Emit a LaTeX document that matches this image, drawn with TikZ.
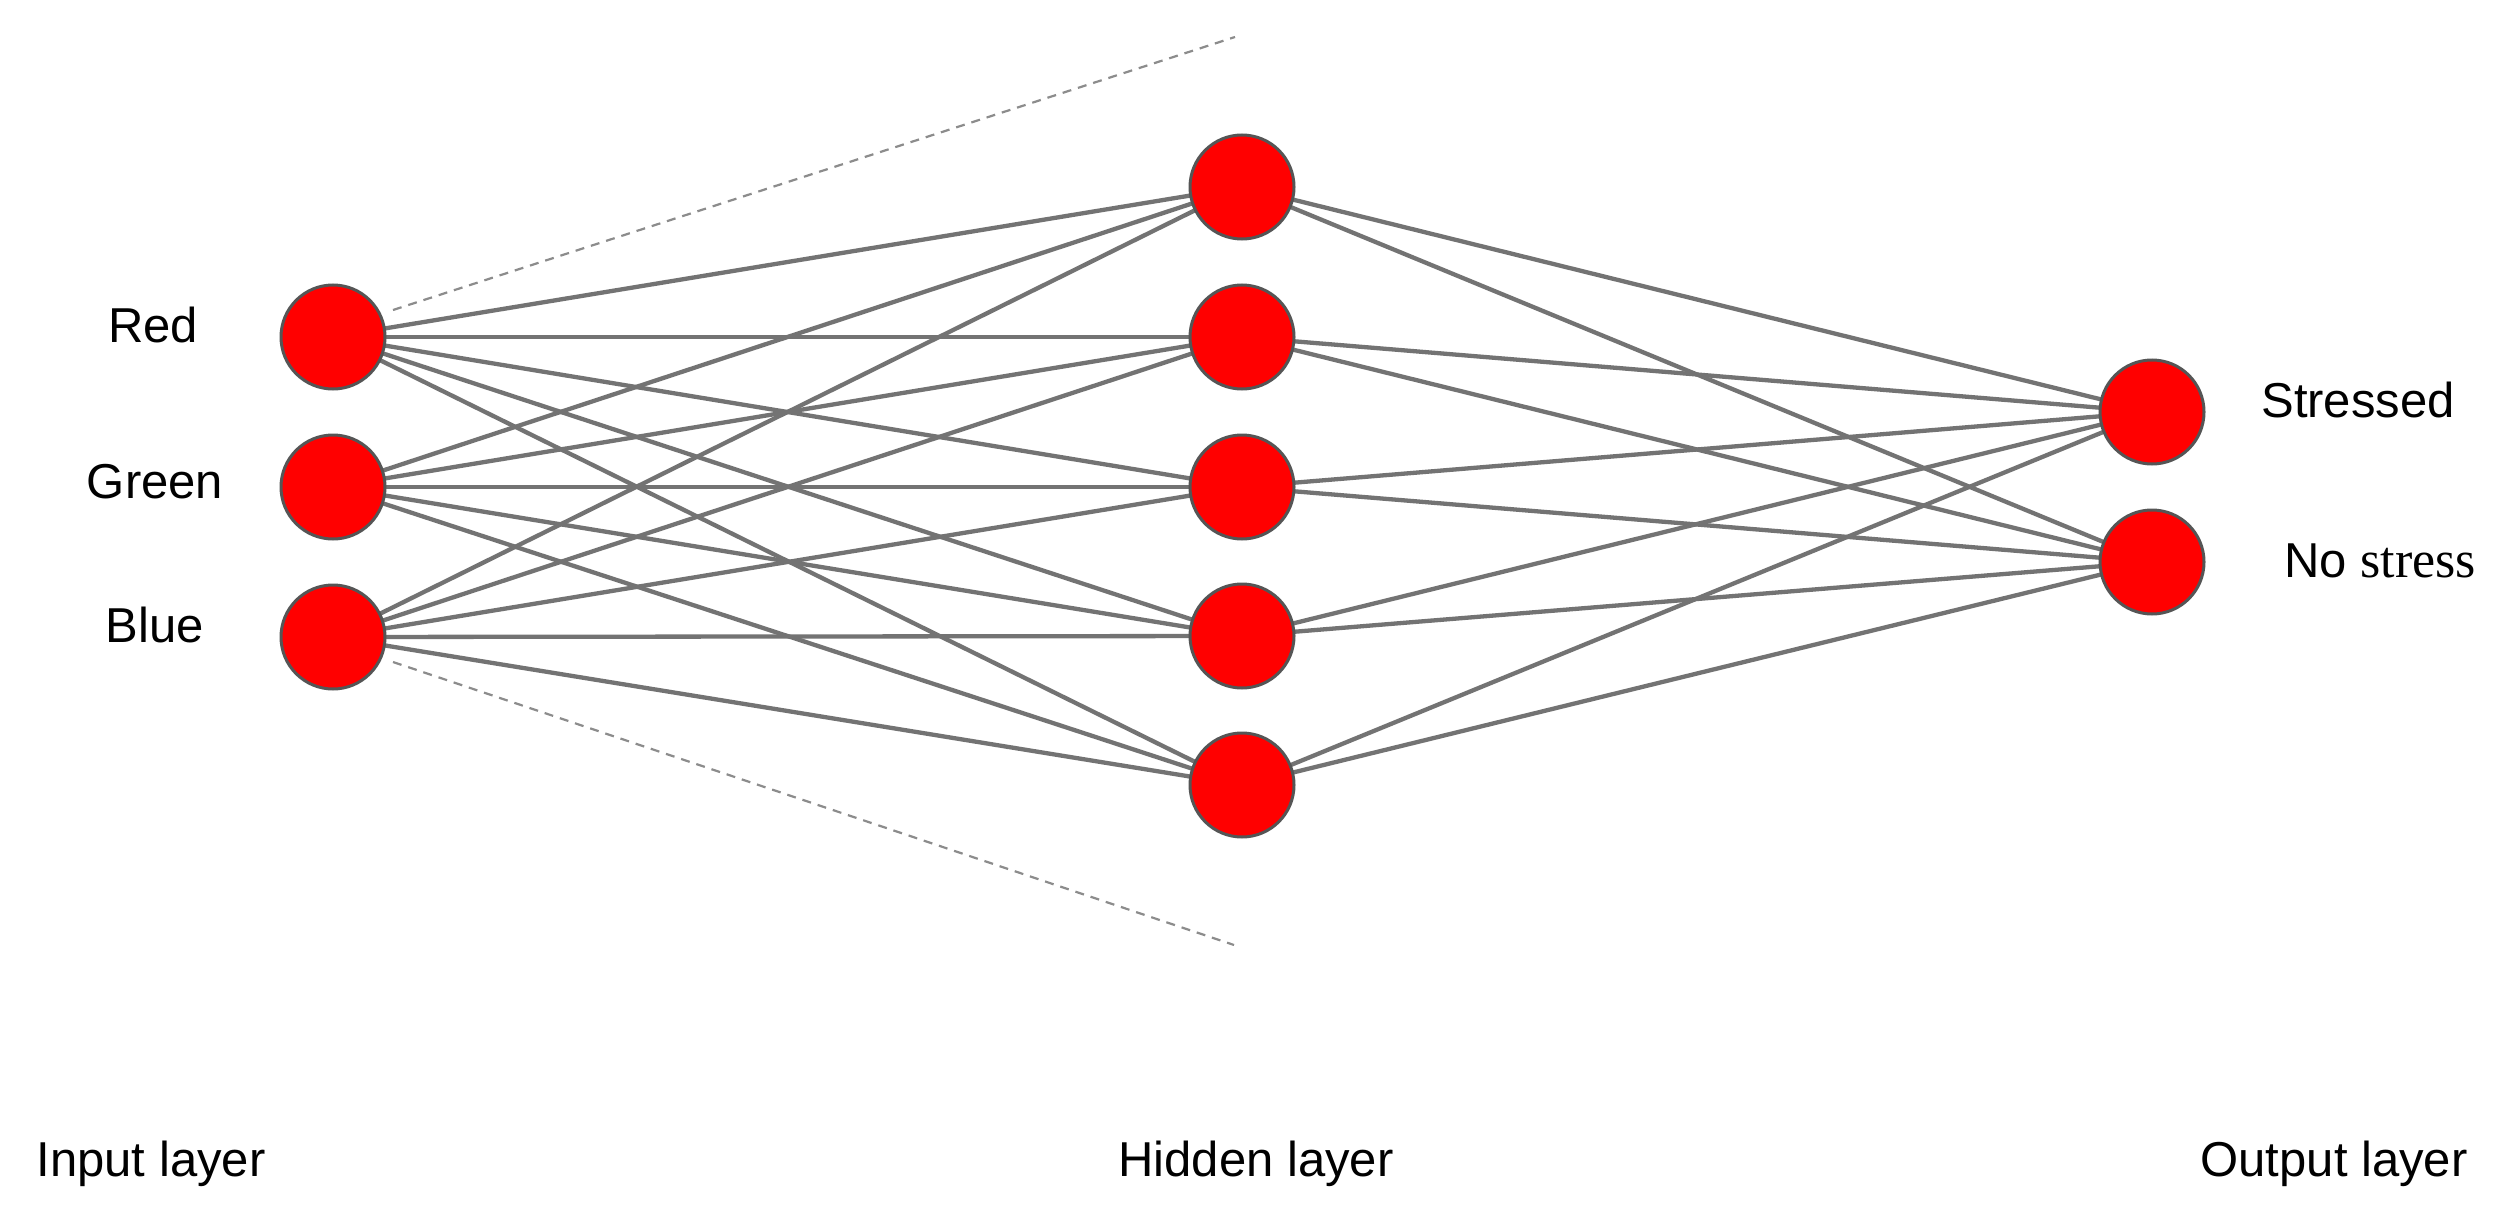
\documentclass[tikz,border=0pt]{standalone}
\usepackage{fontspec}
\setmainfont{Liberation Sans}
\newfontfamily\timesfont{Liberation Serif}
\definecolor{edgegray}{RGB}{115,115,115}
\definecolor{rimgray}{RGB}{85,85,85}
\definecolor{dashgray}{RGB}{140,140,140}
\definecolor{nodered}{RGB}{255,0,0}
\begin{document}
\begin{tikzpicture}[x=1pt,y=-1pt,
  neuron/.style={circle,fill=nodered,draw=rimgray,line width=3pt,minimum size=104pt,inner sep=0pt},
  conn/.style={draw=edgegray,line width=4.3pt},
  guide/.style={draw=dashgray,line width=2.2pt,dash pattern=on 9pt off 7pt},
  lbl/.style={font=\fontsize{49}{58}\selectfont,anchor=base,inner sep=0pt}]
\useasboundingbox (0,0) rectangle (2506,1217);
\fill[white] (0,0) rectangle (2506,1217);
% coordinates of neurons
\coordinate (i1) at (333,337);
\coordinate (i2) at (333,487);
\coordinate (i3) at (333,637);
\coordinate (h1) at (1242,187);
\coordinate (h2) at (1242,337);
\coordinate (h3) at (1242,487);
\coordinate (h4) at (1242,636);
\coordinate (h5) at (1242,785);
\coordinate (o1) at (2152,412);
\coordinate (o2) at (2152,562);
% connections
\foreach \i in {1,2,3}{\foreach \h in {1,...,5}{\draw[conn] (i\i) -- (h\h);}}
\foreach \h in {1,...,5}{\foreach \o in {1,2}{\draw[conn] (h\h) -- (o\o);}}
% neurons
\foreach \n in {i1,i2,i3,h1,h2,h3,h4,h5,o1,o2}{\node[neuron] (N\n) at (\n) {};}
% dashed guide lines
\coordinate (d1a) at (393,310);
\coordinate (d1b) at (1235,37);
\coordinate (d2a) at (393,662);
\coordinate (d2b) at (1234,945);
\draw[guide] (d1a) -- (d1b);
\draw[guide] (d2a) -- (d2b);
% labels
\node[lbl] (lred) at (153,342) {Red};
\node[lbl] (lgreen) at (155,498) {Green};
\node[lbl] (lblue) at (155,642) {Blue};
\node[lbl] (lstress) at (2358,417) {Stressed};
\node[lbl] (lnostress) at (2380,577) {No {\timesfont\fontsize{52}{60}\selectfont stress}};
\node[lbl] (lin) at (151,1176) {Input layer};
\node[lbl] (lhid) at (1256,1176) {Hidden layer};
\node[lbl] (lout) at (2334,1176) {Output layer};
\end{tikzpicture}
\end{document}
